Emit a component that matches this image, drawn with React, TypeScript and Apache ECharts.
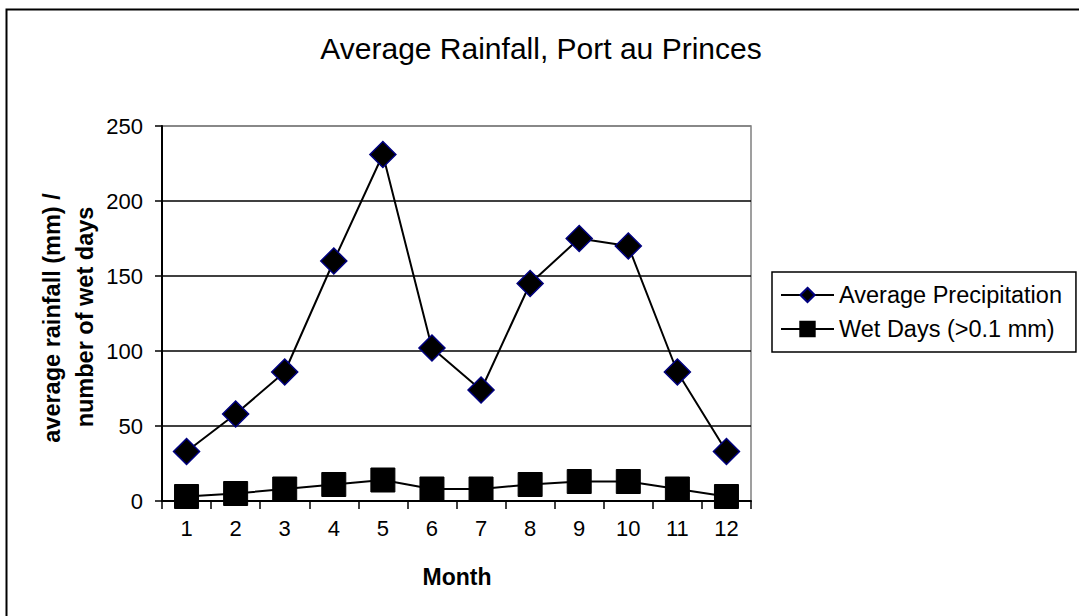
import React, { useEffect, useRef } from "react";
import * as echarts from "echarts";

const months = ["1", "2", "3", "4", "5", "6", "7", "8", "9", "10", "11", "12"];
const precipitation = [33, 58, 86, 160, 231, 102, 74, 145, 175, 170, 86, 33];
const wetDays = [3, 5, 8, 11, 14, 8, 8, 11, 13, 13, 8, 3];
const titleText = "Average Rainfall, Port au Princes";
const yNameLine1 = "average rainfall (mm) /";
const yNameLine2 = "number of wet days";
const xName = "Month";
const seriesNames = ["Average Precipitation", "Wet Days (>0.1 mm)"];

const FONT = "'Liberation Sans', Arial, sans-serif";

export default function App() {
  const ref = useRef<HTMLDivElement>(null);
  useEffect(() => {
    if (!ref.current) return;
    const chart = echarts.init(ref.current, undefined, { renderer: "svg" });
    chart.setOption({
      animation: false,
      backgroundColor: "#ffffff",
      textStyle: { fontFamily: FONT },
      grid: {
        left: 162,
        top: 126,
        width: 589,
        height: 375,
        show: true,
        borderColor: "#808080",
        borderWidth: 1.5,
        backgroundColor: "transparent",
      },
      xAxis: {
        type: "category",
        data: months,
        boundaryGap: true,
        axisLine: { show: true, lineStyle: { color: "#000", width: 2 } },
        axisTick: { show: true, alignWithLabel: false, length: 8, lineStyle: { color: "#000", width: 1.5 } },
        axisLabel: { color: "#000", fontSize: 22, fontFamily: FONT, margin: 16 },
        splitLine: { show: false },
      },
      yAxis: {
        type: "value",
        min: 0,
        max: 250,
        interval: 50,
        axisLine: { show: true, lineStyle: { color: "#000", width: 2 } },
        axisTick: { show: true, inside: false, length: 7, lineStyle: { color: "#000", width: 1.5 } },
        axisLabel: { color: "#000", fontSize: 22, fontFamily: FONT, margin: 19 },
        splitLine: {
          show: true,
          lineStyle: { color: ["#000", "#000", "#000", "#000", "#000", "#808080"], width: 1.5 },
        },
      },
      legend: {
        orient: "vertical",
        left: 772,
        top: 272,
        data: seriesNames,
        itemWidth: 53,
        itemHeight: 18,
        itemGap: 10,
        padding: [11, 14, 11, 8],
        borderColor: "#000",
        borderWidth: 1.5,
        backgroundColor: "#fff",
        textStyle: { color: "#000", fontSize: 23.5, fontFamily: FONT, lineHeight: 24 },
      },
      series: [
        {
          name: seriesNames[0],
          type: "line",
          data: precipitation,
          symbol: "diamond",
          symbolSize: 26,
          lineStyle: { color: "#000", width: 2 },
          itemStyle: { color: "#000", borderColor: "#000080", borderWidth: 1.5 },
          z: 3,
        },
        {
          name: seriesNames[1],
          type: "line",
          data: wetDays,
          symbol: "rect",
          symbolSize: 24,
          lineStyle: { color: "#000", width: 2 },
          itemStyle: { color: "#000", borderColor: "#000", borderWidth: 1 },
          z: 3,
        },
      ],
      graphic: [
        {
          type: "rect",
          z: -10,
          shape: { x: 6.5, y: 9.5, width: 1200, height: 800 },
          style: { fill: "none", stroke: "#000", lineWidth: 2 },
          silent: true,
        },
        {
          type: "text",
          x: 541,
          y: 48,
          style: {
            text: titleText,
            fill: "#000",
            font: `30px ${FONT}`,
            align: "center",
            verticalAlign: "middle",
          },
        },
        {
          type: "text",
          x: 52,
          y: 318,
          rotation: Math.PI / 2,
          style: {
            text: yNameLine1,
            fill: "#000",
            font: `bold 23.5px ${FONT}`,
            align: "center",
            verticalAlign: "middle",
          },
        },
        {
          type: "text",
          x: 85,
          y: 317,
          rotation: Math.PI / 2,
          style: {
            text: yNameLine2,
            fill: "#000",
            font: `bold 23.5px ${FONT}`,
            align: "center",
            verticalAlign: "middle",
          },
        },
        {
          type: "text",
          x: 457,
          y: 577,
          style: {
            text: xName,
            fill: "#000",
            font: `bold 23px ${FONT}`,
            align: "center",
            verticalAlign: "middle",
          },
        },
      ],
    });
    return () => chart.dispose();
  }, []);
  return (
    <div
      ref={ref}
      style={{ position: "absolute", left: 0, top: 0, width: 1079, height: 616, background: "#fff" }}
    />
  );
}
